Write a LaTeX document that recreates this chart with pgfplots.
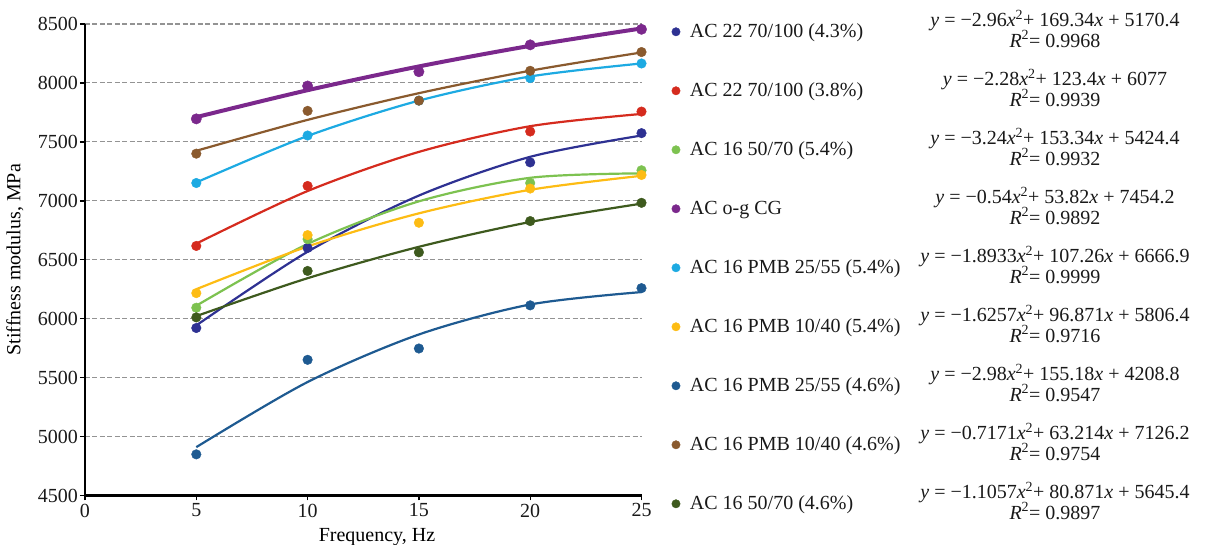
\documentclass[border=0pt]{standalone}
\usepackage{pgfplots}
\pgfplotsset{compat=1.18}
\usepackage{fontspec}
\setmainfont{Liberation Serif}
\definecolor{cnavy}{RGB}{46,49,146}
\definecolor{cred}{RGB}{213,43,30}
\definecolor{clgreen}{RGB}{125,194,80}
\definecolor{cpurple}{RGB}{123,40,140}
\definecolor{ccyan}{RGB}{29,170,226}
\definecolor{cyellow}{RGB}{253,188,20}
\definecolor{csteel}{RGB}{30,90,145}
\definecolor{cbrown}{RGB}{138,90,46}
\definecolor{cdgreen}{RGB}{62,90,30}
\begin{document}
\fontsize{20}{24}\selectfont
\begin{tikzpicture}
\path[use as bounding box] (-85pt,-49.5pt) rectangle (1124pt,495.5pt);
\begin{axis}[
  at={(0pt,0pt)}, anchor=south west,
  scale only axis, width=556.5pt, height=471.5pt,
  xmin=0, xmax=25, ymin=4500, ymax=8500,
  xtick={0,5,...,25}, ytick={4500,5000,...,8500},
  axis x line*=bottom, axis y line*=left,
  axis line style={-, line width=2.2pt, black},
  tick align=outside, major tick length=5pt,
  tick style={black, line width=1.4pt},
  ymajorgrids,
  grid style={gray!85, line width=1.1pt, dash pattern=on 5pt off 2.5pt},
  /pgf/number format/assume math mode=true,
  /pgf/number format/1000 sep={},
  ticklabel style={font=\fontsize{20}{24}\selectfont, text=black!90},
  yticklabel style={inner sep=2pt},
  xticklabel style={inner sep=3pt},
  label style={font=\fontsize{20}{24}\selectfont, text=black!90},
  xlabel={Frequency, Hz},
  ylabel={Stiffness modulus, MPa},
  every axis x label/.style={at={(axis description cs:0.5247,-0.088)}, anchor=center},
  every axis y label/.style={at={(axis description cs:-0.1258,0.5)}, rotate=90, anchor=center},
  legend cell align=left,
  legend image code/.code={\draw[#1, mark size=4.2pt] plot coordinates {(0pt,0pt)};},
  legend style={draw=none, fill=none, inner sep=0pt, outer sep=0pt,
    at={(axis description cs:1.0544,1.0015)}, anchor=north west,
    row sep=42pt, column sep=9.8pt,
    font=\fontsize{20}{24}\selectfont, text=black!90,
    nodes={inner sep=0pt, text height=14pt, text depth=3pt}},
  dots/.style={only marks, mark=*, mark size=4.8pt, color=#1, mark options={fill=#1, draw=none}},
]
% fitted trend curves (values of the displayed equations at 5..25 Hz)
\addplot[cnavy, line width=2.2pt, smooth, forget plot] coordinates {(5,5943.1)(10,6567.8)(15,7044.5)(20,7373.2)(25,7553.9)};
\addplot[cred, line width=2.2pt, smooth, forget plot] coordinates {(5,6637)(10,7083)(15,7415)(20,7633)(25,7737)};
\addplot[clgreen, line width=2.2pt, smooth, forget plot] coordinates {(5,6110.1)(10,6633.8)(15,6995.5)(20,7195.2)(25,7232.9)};
\addplot[cpurple, line width=4pt, smooth, forget plot] coordinates {(5,7709.8)(10,7938.4)(15,8140)(20,8314.6)(25,8462.2)};
\addplot[ccyan, line width=2.2pt, smooth, forget plot] coordinates {(5,7155.9)(10,7550.2)(15,7849.8)(20,8054.8)(25,8165.1)};
\addplot[cyellow, line width=2.2pt, smooth, forget plot] coordinates {(5,6250.1)(10,6612.5)(15,6893.7)(20,7093.5)(25,7212.1)};
\addplot[csteel, line width=2.2pt, smooth, forget plot] coordinates {(5,4910.2)(10,5462.6)(15,5866)(20,6120.4)(25,6225.8)};
\addplot[cbrown, line width=2.2pt, smooth, forget plot] coordinates {(5,7424.3)(10,7686.6)(15,7913.1)(20,8103.6)(25,8258.4)};
\addplot[cdgreen, line width=2.2pt, smooth, forget plot] coordinates {(5,6022.1)(10,6343.5)(15,6609.7)(20,6820.5)(25,6976.1)};
% measured points
\addplot[dots=cnavy] coordinates {(5,5921)(10,6600)(20,7326)(25,7574)};
\addlegendentry{AC 22 70/100 (4.3\%)}
\addplot[dots=cred] coordinates {(5,6617)(10,7126)(20,7588)(25,7757)};
\addlegendentry{AC 22 70/100 (3.8\%)}
\addplot[dots=clgreen] coordinates {(5,6093)(10,6675)(20,7151)(25,7259)};
\addlegendentry{AC 16 50/70 (5.4\%)}
\addplot[dots=cpurple, mark size=5.2pt] coordinates {(5,7695)(10,7974)(15,8095)(20,8323)(25,8455)};
\addlegendentry{AC o-g CG}
\addplot[dots=ccyan] coordinates {(5,7151)(10,7554)(15,7850)(20,8041)(25,8165)};
\addlegendentry{AC 16 PMB 25/55 (5.4\%)}
\addplot[dots=cyellow] coordinates {(5,6217)(10,6709)(15,6814)(20,7104)(25,7219)};
\addlegendentry{AC 16 PMB 10/40 (5.4\%)}
\addplot[dots=csteel] coordinates {(5,4849)(10,5651)(15,5747)(20,6113)(25,6259)};
\addlegendentry{AC 16 PMB 25/55 (4.6\%)}
\addplot[dots=cbrown] coordinates {(5,7400)(10,7763)(15,7850)(20,8103)(25,8262)};
\addlegendentry{AC 16 PMB 10/40 (4.6\%)}
\addplot[dots=cdgreen] coordinates {(5,6011)(10,6405)(15,6563)(20,6828)(25,6983)};
\addlegendentry{AC 16 50/70 (4.6\%)}
\end{axis}
\begin{scope}[every node/.style={anchor=base, inner sep=0pt, text=black!90, font=\fontsize{20}{24}\selectfont}]
\node at (970pt,468.5pt) {\textit{y} = −2.96\textit{x}\textsuperscript{2}+ 169.34\textit{x} + 5170.4};
\node at (970pt,448pt) {\textit{R}\textsuperscript{2}= 0.9968};
\node at (970pt,409.5pt) {\textit{y} = −2.28\textit{x}\textsuperscript{2}+ 123.4\textit{x} + 6077};
\node at (970pt,389pt) {\textit{R}\textsuperscript{2}= 0.9939};
\node at (970pt,350.5pt) {\textit{y} = −3.24\textit{x}\textsuperscript{2}+ 153.34\textit{x} + 5424.4};
\node at (970pt,330pt) {\textit{R}\textsuperscript{2}= 0.9932};
\node at (970pt,291.5pt) {\textit{y} = −0.54\textit{x}\textsuperscript{2}+ 53.82\textit{x} + 7454.2};
\node at (970pt,271pt) {\textit{R}\textsuperscript{2}= 0.9892};
\node at (970pt,232.5pt) {\textit{y} = −1.8933\textit{x}\textsuperscript{2}+ 107.26\textit{x} + 6666.9};
\node at (970pt,212pt) {\textit{R}\textsuperscript{2}= 0.9999};
\node at (970pt,173.5pt) {\textit{y} = −1.6257\textit{x}\textsuperscript{2}+ 96.871\textit{x} + 5806.4};
\node at (970pt,153pt) {\textit{R}\textsuperscript{2}= 0.9716};
\node at (970pt,114.5pt) {\textit{y} = −2.98\textit{x}\textsuperscript{2}+ 155.18\textit{x} + 4208.8};
\node at (970pt,94pt) {\textit{R}\textsuperscript{2}= 0.9547};
\node at (970pt,55.5pt) {\textit{y} = −0.7171\textit{x}\textsuperscript{2}+ 63.214\textit{x} + 7126.2};
\node at (970pt,35pt) {\textit{R}\textsuperscript{2}= 0.9754};
\node at (970pt,-3.5pt) {\textit{y} = −1.1057\textit{x}\textsuperscript{2}+ 80.871\textit{x} + 5645.4};
\node at (970pt,-24pt) {\textit{R}\textsuperscript{2}= 0.9897};
\end{scope}
\end{tikzpicture}
\end{document}
